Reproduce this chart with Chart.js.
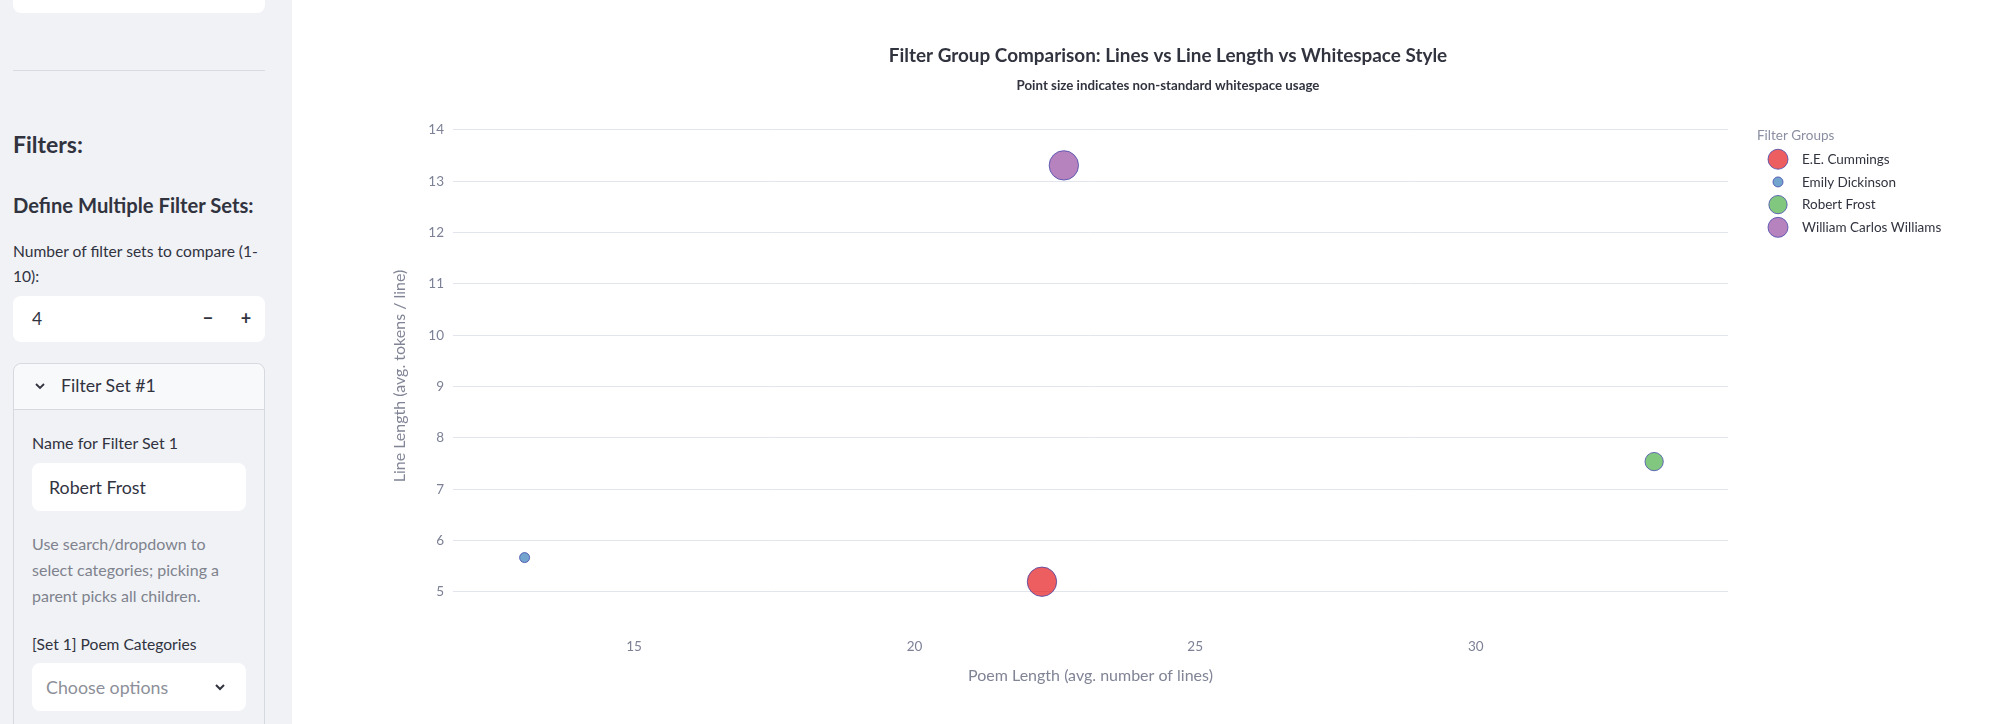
<!DOCTYPE html>
<html>
<head>
<meta charset="utf-8">
<title>Filter Group Comparison</title>
<script src="https://cdn.jsdelivr.net/npm/chart.js@4.4.1/dist/chart.umd.min.js"></script>
<style>
    html, body {
        margin: 0;
        padding: 0;
        width: 2000px;
        height: 724px;
        overflow: hidden;
        background: #ffffff;
        font-family: "Source Sans Pro", Lato, sans-serif;
        color: #31333F;
    }
    .sidebar {
        position: absolute;
        left: 0;
        top: 0;
        width: 292px;
        height: 724px;
        background: #f0f2f6;
        overflow: hidden;
    }
    .abs {
        position: absolute;
        white-space: nowrap;
    }
    .box {
        position: absolute;
        background: #ffffff;
        border-radius: 8px;
    }
    .label {
        font-size: 15.6px;
        line-height: 20px;
    }
    .caption {
        font-size: 16px;
        line-height: 26px;
        color: #7f828d;
    }
    .expander {
        position: absolute;
        left: 13px;
        top: 363px;
        width: 250px;
        height: 420px;
        border: 1px solid #d6d9df;
        border-radius: 8px;
    }
    .expander-head {
        position: absolute;
        left: 0;
        top: 0;
        width: 250px;
        height: 45px;
        background: #f8f9fb;
        border-bottom: 1px solid #d6d9df;
        border-radius: 8px 8px 0 0;
    }
    .chart-wrap {
        position: absolute;
        left: 336px;
        top: 0;
        width: 1664px;
        height: 724px;
    }
</style>
</head>
<body>

<div class="sidebar">
    <div class="box" style="left:13px;top:-30px;width:252px;height:43px"></div>
    <div class="abs" style="left:13px;top:70px;width:252px;height:1px;background:#d8dbe1"></div>

    <div class="abs" style="left:13px;top:130px;font-size:23px;font-weight:700;line-height:28px">Filters:</div>
    <div class="abs" style="left:13px;top:193px;font-size:20.2px;font-weight:700;line-height:24px">Define Multiple Filter Sets:</div>
    <div class="abs label" style="left:13px;top:239px;line-height:25px">Number of filter sets to compare (1-<br>10):</div>

    <div class="box" style="left:13px;top:296px;width:252px;height:46px">
        <div class="abs" style="left:19px;top:11px;font-size:17.5px;line-height:24px">4</div>
        <div class="abs" style="left:189px;top:10px;width:12px;text-align:center;font-size:18px;font-weight:700;line-height:24px">&minus;</div>
        <div class="abs" style="left:227px;top:10px;width:12px;text-align:center;font-size:18px;font-weight:700;line-height:24px">+</div>
    </div>

    <div class="expander">
        <div class="expander-head">
            <svg class="abs" style="left:20px;top:18px" width="12" height="8" viewBox="0 0 12 8">
                <polyline points="2,2 6,6 10,2" fill="none" stroke="#31333F" stroke-width="1.8"/>
            </svg>
            <div class="abs" style="left:47px;top:10px;font-size:17.7px;line-height:24px">Filter Set #1</div>
        </div>
    </div>

    <div class="abs label" style="left:32px;top:433px;font-size:16px">Name for Filter Set 1</div>
    <div class="box" style="left:32px;top:463px;width:214px;height:48px">
        <div class="abs" style="left:17px;top:12px;font-size:17.8px;line-height:24px">Robert Frost</div>
    </div>

    <div class="abs caption" style="left:32px;top:531px">Use search/dropdown to<br>select categories; picking a<br>parent picks all children.</div>

    <div class="abs label" style="left:32px;top:634px">[Set 1] Poem Categories</div>
    <div class="box" style="left:32px;top:663px;width:214px;height:48px">
        <div class="abs" style="left:14px;top:12px;font-size:17.8px;line-height:24px;color:#8c8f99">Choose options</div>
        <svg class="abs" style="left:182px;top:20px" width="12" height="8" viewBox="0 0 12 8">
            <polyline points="2,2 6,6 10,2" fill="none" stroke="#31333F" stroke-width="2"/>
        </svg>
    </div>
</div>

<div class="chart-wrap">
    <canvas id="bubble-chart" width="1664" height="724"></canvas>
</div>

<script>
(function () {
    "use strict";

    // Filter groups (one bubble each)
    var groups = ["E.E. Cummings", "Emily Dickinson", "Robert Frost", "William Carlos Williams"];
    var poemLength = [22.27, 13.05, 33.18, 22.66];     // avg. number of lines
    var lineLength = [5.20, 5.67, 7.54, 13.31];        // avg. tokens / line
    var whitespaceUse = [31, 3.6, 12, 31];             // non-standard whitespace usage (%)
    var groupColors = ["#E41A1C", "#377EB8", "#4DAF4A", "#984EA3"];

    // Tick labels
    var xTicks = [15, 20, 25, 30];
    var yTicks = [5, 6, 7, 8, 9, 10, 11, 12, 13, 14];

    var fontFamily = '"Source Sans Pro", Lato, sans-serif';
    var tickColor = "#7d8196";
    var maxRadius = 14.7;
    var maxWs = Math.max.apply(null, whitespaceUse);

    function bubbleRadius(v) {
        return maxRadius * Math.sqrt(v / maxWs);
    }

    function withAlpha(hex, a) {
        var n = parseInt(hex.slice(1), 16);
        return "rgba(" + (n >> 16) + ", " + ((n >> 8) & 255) + ", " + (n & 255) + ", " + a + ")";
    }

    // Legend drawn in its own layout box on the right
    function drawLegend(chart, box) {
        var ctx = chart.ctx;
        ctx.save();
        ctx.textBaseline = "middle";
        ctx.textAlign = "left";
        ctx.font = "13.5px " + fontFamily;
        ctx.fillStyle = "#8a8ea0";
        ctx.fillText("Filter Groups", box.left + 29, box.top + 12);
        chart.data.datasets.forEach(function (ds, i) {
            var y = box.top + 35.3 + i * 22.7;
            var r = Math.min(ds.data[0].r, 10);
            ctx.beginPath();
            ctx.arc(box.left + 50, y, r, 0, Math.PI * 2);
            ctx.fillStyle = ds.backgroundColor;
            ctx.fill();
            ctx.lineWidth = ds.borderWidth;
            ctx.strokeStyle = ds.borderColor;
            ctx.stroke();
            ctx.fillStyle = "#31333F";
            ctx.fillText(ds.label, box.left + 74, y + 0.5);
        });
        ctx.restore();
    }

    var groupLegend = {
        id: "groupLegend",
        beforeInit: function (chart) {
            var box = {
                position: "right",
                weight: 1000,
                fullSize: false,
                options: {},
                left: 0, top: 0, right: 0, bottom: 0, width: 0, height: 0,
                isHorizontal: function () { return false; },
                update: function (maxWidth, maxHeight) {
                    this.width = 272;
                    this.height = maxHeight;
                },
                draw: function () {
                    drawLegend(chart, this);
                }
            };
            Chart.layouts.addBox(chart, box);
        }
    };

    Chart.defaults.font.family = fontFamily;
    Chart.defaults.color = tickColor;

    var datasets = groups.map(function (name, i) {
        return {
            label: name,
            data: [{x: poemLength[i], y: lineLength[i], r: bubbleRadius(whitespaceUse[i])}],
            backgroundColor: withAlpha(groupColors[i], 0.7),
            borderColor: "rgba(62, 66, 168, 0.75)",
            borderWidth: 1,
            hoverRadius: 0
        };
    });

    var ctx1 = document.getElementById("bubble-chart").getContext("2d");
    var myChart1 = new Chart(ctx1, {
        type: "bubble",
        data: {datasets: datasets},
        plugins: [groupLegend],
        options: {
            responsive: false,
            devicePixelRatio: 1,
            animation: false,
            layout: {padding: 0},
            plugins: {
                legend: {display: false},
                tooltip: {enabled: false},
                title: {
                    display: true,
                    text: "Filter Group Comparison: Lines vs Line Length vs Whitespace Style",
                    color: "#31333F",
                    font: {size: 18.9, weight: "bold"},
                    padding: {top: 44.9, bottom: 10}
                },
                subtitle: {
                    display: true,
                    text: "Point size indicates non-standard whitespace usage",
                    color: "#31333F",
                    font: {size: 13.3, weight: "bold"},
                    padding: {top: 0, bottom: 30.4}
                }
            },
            scales: {
                x: {
                    type: "linear",
                    position: "bottom",
                    min: 11.774,
                    max: 34.496,
                    afterBuildTicks: function (scale) {
                        scale.ticks = xTicks.map(function (v) { return {value: v}; });
                    },
                    afterFit: function (scale) {
                        scale.height = 96;
                    },
                    grid: {display: false, drawTicks: false},
                    border: {display: false},
                    ticks: {color: tickColor, font: {size: 13.5}, padding: 10.5},
                    title: {
                        display: true,
                        text: "Poem Length (avg. number of lines)",
                        color: "#808495",
                        font: {size: 16},
                        padding: {top: 0, bottom: 38.4}
                    }
                },
                y: {
                    type: "linear",
                    position: "left",
                    min: 4.2987,
                    max: 14.117,
                    afterBuildTicks: function (scale) {
                        scale.ticks = yTicks.map(function (v) { return {value: v}; });
                    },
                    afterFit: function (scale) {
                        scale.width = 117;
                    },
                    grid: {color: "#e2e5eb", lineWidth: 1, drawTicks: false},
                    border: {display: false},
                    ticks: {color: tickColor, font: {size: 13.5}, padding: 9},
                    title: {
                        display: true,
                        text: "Line Length (avg. tokens / line)",
                        color: "#808495",
                        font: {size: 16},
                        padding: {top: 54.4, bottom: 0}
                    }
                }
            }
        }
    });
})();
</script>
</body>
</html>
